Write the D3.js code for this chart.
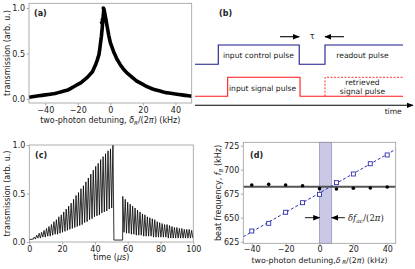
<!DOCTYPE html>
<html>
<head>
<meta charset="utf-8">
<script src="https://cdn.jsdelivr.net/npm/d3@7"></script>
<style>
  body { margin: 0; background: #fff; }
  text { font-family: "DejaVu Sans", sans-serif; fill: #222; }
</style>
</head>
<body>
<script>
// ---- panel (a): transmission vs two-photon detuning
const aDetuning = [-50, -48, -46, -44, -42, -40, -38, -36, -34, -32, -30, -28, -26, -24, -22, -20, -18, -16, -14, -12,
                   -11, -10, -9, -8, -7, -6.5, -6, -5.5, -5, -4.5, -4, -3.5, -3, -2.5, -2, -1.5, -1, 0, 1, 2, 3, 4,
                   6, 8, 10, 12, 14, 16, 18, 20, 22, 24, 26, 28, 30, 32, 34, 36, 38, 40, 42, 44, 46, 48, 50]
const aTransmission = [0.02, 0.025, 0.03, 0.035, 0.04, 0.045, 0.05, 0.055, 0.06, 0.07, 0.08, 0.09, 0.10, 0.12, 0.14, 0.16, 0.18, 0.21, 0.24, 0.28,
                       0.30, 0.34, 0.38, 0.43, 0.49, 0.55, 0.62, 0.69, 0.78, 0.89, 0.99, 0.95, 0.90, 0.85, 0.80, 0.75, 0.70, 0.62, 0.57, 0.52, 0.48, 0.44,
                       0.38, 0.33, 0.29, 0.26, 0.23, 0.20, 0.18, 0.16, 0.14, 0.125, 0.11, 0.10, 0.09, 0.08, 0.07, 0.065, 0.06, 0.055, 0.05, 0.045, 0.04, 0.035, 0.03]
const aStrayX = [-5.3, -4.9, -4.3, -3.9]
const aStrayY = [0.84, 0.87, 1.0, 0.97]
const aTicksX = [-40, -20, 0, 20, 40]
const aTicksY = [0.0, 0.5, 1.0]

// ---- panel (b): pulse sequence (time in arb. units)
const bControl = [[0, 0], [11.2, 0], [11.2, 1], [50.1, 1], [50.1, 0], [62.5, 0], [62.5, 1], [100, 1]]
const bSignal = [[0, 0], [15.7, 0], [15.7, 1], [50.5, 1], [50.5, 0], [100, 0]]
const bRetrieved = [[62.5, 0], [62.5, 1], [100, 1]]
const bTauArrows = [[40.9, 50.1], [71.6, 62.5]]

// ---- panel (c): transmission vs time
const cRiseT = [3.0, 4.5, 6.0, 7.5, 9.0, 10.5, 12.0, 13.5, 15.0, 16.5, 18.0, 19.5, 21.0, 22.5, 24.0, 25.5, 27.0,
                28.5, 30.0, 31.5, 33.0, 34.5, 36.0, 37.5, 39.0, 40.5, 42.0, 43.5, 45.0, 46.5, 48.0, 49.5, 51.0]
const cRisePeak = [0.05, 0.07, 0.09, 0.10, 0.12, 0.14, 0.16, 0.18, 0.21, 0.23, 0.26, 0.28, 0.31, 0.34, 0.37, 0.40, 0.44,
                   0.48, 0.51, 0.55, 0.58, 0.62, 0.66, 0.70, 0.74, 0.78, 0.81, 0.85, 0.88, 0.91, 0.94, 0.96, 1.00]
const cRiseTrough = [0.03, 0.03, 0.04, 0.04, 0.05, 0.05, 0.06, 0.06, 0.07, 0.08, 0.08, 0.09, 0.10, 0.11, 0.12, 0.13, 0.14,
                     0.15, 0.16, 0.17, 0.18, 0.20, 0.21, 0.23, 0.24, 0.26, 0.27, 0.28, 0.30, 0.31, 0.32, 0.34, 0.35]
const cDecayT = [57.0, 58.5, 60.0, 61.5, 63.0, 64.5, 66.0, 67.5, 69.0, 70.5, 72.0, 73.5, 75.0, 76.5, 78.0,
                 79.5, 81.0, 82.5, 84.0, 85.5, 87.0, 88.5, 90.0, 91.5, 93.0, 94.5, 96.0, 97.5, 99.0]
const cDecayPeak = [0.47, 0.44, 0.41, 0.39, 0.37, 0.35, 0.33, 0.31, 0.29, 0.28, 0.26, 0.25, 0.24, 0.23, 0.21,
                    0.20, 0.19, 0.18, 0.18, 0.17, 0.16, 0.15, 0.15, 0.14, 0.14, 0.13, 0.13, 0.13, 0.12]
const cDecayTrough = [0.10, 0.09, 0.09, 0.08, 0.08, 0.07, 0.07, 0.07, 0.06, 0.06, 0.06, 0.06, 0.05, 0.05, 0.05,
                      0.05, 0.05, 0.05, 0.04, 0.04, 0.04, 0.04, 0.04, 0.04, 0.04, 0.04, 0.04, 0.04, 0.04]
const cDark = [[0, 0.025], [2.4, 0.03], [51.6, 0.02], [56.9, 0.02]]
const cTicksX = [0, 20, 40, 60, 80, 100]
const cTicksY = [0.0, 0.5, 1.0]

// ---- panel (d): beat frequency vs detuning
const dDetuning = [-40, -30, -20, -10, 0, 10, 20, 30, 40]
const dBeatSignal = [636.1, 644.1, 655.6, 665.6, 674.3, 686.5, 695.5, 706.2, 715.3]
const dBeatRef = [684.0, 684.7, 684.0, 683.3, 680.2, 679.9, 680.6, 680.9, 682.0]
const dRefMean = 682.3
const dFitX = [-45, 45]
const dFitY = [630.2, 721.2]
const dShade = [0, 7.2]
const dTicksX = [-40, -20, 0, 20, 40]
const dTicksY = [625, 650, 675, 700, 725]

const w = 415, h = 269
const svg = d3.select("body").append("svg")
              .attr("width", w)
              .attr("height", h)

const spineColor = "#9a9a9a"

function frame(g, x, y, ticksX, ticksY, fmtX, fmtY, padX) {
    const [x0, x1] = x.range(), [y0, y1] = y.range()
    g.append("rect")
     .attr("x", x0).attr("y", y1)
     .attr("width", x1 - x0).attr("height", y0 - y1)
     .attr("fill", "none")
     .attr("stroke", spineColor)
     .attr("stroke-width", 0.8)
    const xa = g.append("g").attr("transform", "translate(0," + y0 + ")")
                .call(d3.axisBottom(x).tickValues(ticksX).tickSize(2.5).tickPadding(padX).tickFormat(fmtX))
    const ya = g.append("g").attr("transform", "translate(" + x0 + ",0)")
                .call(d3.axisLeft(y).tickValues(ticksY).tickSize(2.5).tickPadding(1.5).tickFormat(fmtY))
    for (const a of [xa, ya]) {
        a.select(".domain").remove()
        a.selectAll("line").attr("stroke", spineColor).attr("stroke-width", 0.8)
        a.selectAll("text").style("font-size", "8px").style("font-family", "DejaVu Sans").attr("fill", "#222")
    }
}
const minus = d => d3.format(".0f")(d).replace("-", "\u2212")

// ================= (a)
const ax = d3.scaleLinear().domain([-50, 50]).range([29, 191.7])
const ay = d3.scaleLinear().domain([-0.044, 1.052]).range([103, 3.3])
const ga = svg.append("g")
ga.append("path")
  .datum(d3.zip(aDetuning, aTransmission))
  .attr("d", d3.line().x(d => ax(d[0])).y(d => ay(d[1])))
  .attr("fill", "none")
  .attr("stroke", "#000")
  .attr("stroke-width", 3.6)
  .attr("stroke-linejoin", "round")
ga.selectAll("circle.stray")
  .data(d3.zip(aStrayX, aStrayY))
  .enter().append("circle")
  .attr("cx", d => ax(d[0])).attr("cy", d => ay(d[1]))
  .attr("r", 1.9).attr("fill", "#000")
frame(ga, ax, ay, aTicksX, aTicksY, minus, d3.format(".1f"), 1.5)
ga.append("text").attr("x", 34).attr("y", 16).text("(a)")
  .style("font-size", "8px").style("font-weight", "bold")
ga.append("text")
  .attr("transform", "translate(9.5,53) rotate(-90)")
  .attr("text-anchor", "middle")
  .style("font-size", "8px")
  .text("transmission (arb. u.)")
const alab = ga.append("text").attr("x", 110.3).attr("y", 123).attr("text-anchor", "middle").style("font-size", "8px")
alab.append("tspan").text("two-photon detuning, ")
alab.append("tspan").style("font-style", "italic").text("\u03b4")
alab.append("tspan").attr("dy", 1.5).style("font-size", "5.5px").style("font-style", "italic").text("R")
alab.append("tspan").attr("dy", -1.5).text("/(2")
alab.append("tspan").style("font-style", "italic").text("\u03c0")
alab.append("tspan").text(") (kHz)")

// ================= (b)
const bx = d3.scaleLinear().domain([0, 100]).range([195, 403])
const bCtrlY = d3.scaleLinear().domain([0, 1]).range([64.3, 45])
const bSigY = d3.scaleLinear().domain([0, 1]).range([96.3, 77.3])
const gb = svg.append("g")
const defs = svg.append("defs")
defs.append("marker")
    .attr("id", "head")
    .attr("viewBox", "0 0 10 10")
    .attr("refX", 9).attr("refY", 5)
    .attr("markerWidth", 7).attr("markerHeight", 7)
    .attr("markerUnits", "userSpaceOnUse")
    .attr("orient", "auto")
    .append("path").attr("d", "M0,1 L10,5 L0,9 Z").attr("fill", "#000")

gb.append("path")
  .datum(bControl)
  .attr("d", d3.line().x(d => bx(d[0])).y(d => bCtrlY(d[1])))
  .attr("fill", "none").attr("stroke", "#1a1a8c").attr("stroke-width", 1.1)
gb.append("path")
  .datum(bSignal)
  .attr("d", d3.line().x(d => bx(d[0])).y(d => bSigY(d[1])))
  .attr("fill", "none").attr("stroke", "#ff1a1a").attr("stroke-width", 1.1)
gb.append("path")
  .datum(bRetrieved)
  .attr("d", d3.line().x(d => bx(d[0])).y(d => bSigY(d[1])))
  .attr("fill", "none").attr("stroke", "#ff1a1a").attr("stroke-width", 0.9)
  .attr("stroke-dasharray", "2,1.5")
gb.append("line")
  .attr("x1", bx(0)).attr("x2", bx(104.8))
  .attr("y1", 105.3).attr("y2", 105.3)
  .attr("stroke", "#000").attr("stroke-width", 1.1)
  .attr("marker-end", "url(#head)")
gb.selectAll("line.tau")
  .data(bTauArrows)
  .enter().append("line")
  .attr("x1", d => bx(d[0])).attr("x2", d => bx(d[1]))
  .attr("y1", 36.7).attr("y2", 36.7)
  .attr("stroke", "#000").attr("stroke-width", 1.1)
  .attr("marker-end", "url(#head)")
gb.append("text").attr("x", bx(56.3)).attr("y", 39).attr("text-anchor", "middle")
  .style("font-size", "8px").text("\u03c4")
gb.append("text").attr("x", 219).attr("y", 15.5).text("(b)")
  .style("font-size", "8px").style("font-weight", "bold")
const bLabels = [
    ["input control pulse", 30.5, 57.8],
    ["readout pulse", 80.5, 57.8],
    ["input signal pulse", 32.5, 90.5],
    ["retrieved", 80.5, 84.5],
    ["signal pulse", 80.5, 93.5],
    ["time", 95.3, 113.8]
]
gb.selectAll("text.lab")
  .data(bLabels)
  .enter().append("text")
  .attr("x", d => bx(d[1])).attr("y", d => d[2])
  .attr("text-anchor", "middle")
  .style("font-size", "7.6px")
  .attr("fill", "#333")
  .text(d => d[0])

// ================= (c)
const cx = d3.scaleLinear().domain([0, 100]).range([29.3, 193.3])
const cy = d3.scaleLinear().domain([0, 1]).range([242, 145])
const cTrace = [cDark[0], cDark[1]]
cRiseT.forEach((t, i) => { cTrace.push([t - 0.75, cRiseTrough[i]], [t, cRisePeak[i]]) })
cTrace.push(cDark[2], cDark[3])
cDecayT.forEach((t, i) => { cTrace.push([t, cDecayPeak[i]], [t + 0.75, cDecayTrough[i]]) })
const gc = svg.append("g")
gc.append("path")
  .datum(cTrace)
  .attr("d", d3.line().x(d => cx(d[0])).y(d => cy(d[1])))
  .attr("fill", "none").attr("stroke", "#000").attr("stroke-width", 0.8)
frame(gc, cx, cy, cTicksX, cTicksY, d3.format(".0f"), d3.format(".1f"), 1.5)
gc.append("text").attr("x", 35).attr("y", 158).text("(c)")
  .style("font-size", "8px").style("font-weight", "bold")
gc.append("text")
  .attr("transform", "translate(9.5,193.5) rotate(-90)")
  .attr("text-anchor", "middle")
  .style("font-size", "8px")
  .text("transmission (arb. u.)")
const clab = gc.append("text").attr("x", 111.3).attr("y", 259.5).attr("text-anchor", "middle").style("font-size", "8px")
clab.append("tspan").text("time (")
clab.append("tspan").style("font-style", "italic").text("\u03bc")
clab.append("tspan").text("s)")

// ================= (d)
const dx = d3.scaleLinear().domain([-45, 45]).range([243.3, 395.7])
const dy = d3.scaleLinear().domain([623.3, 728.5]).range([243.3, 142.3])
const gd = svg.append("g")
gd.append("rect")
  .attr("x", dx(dShade[0])).attr("width", dx(dShade[1]) - dx(dShade[0]))
  .attr("y", dy(728.5)).attr("height", dy(623.3) - dy(728.5))
  .attr("fill", "#c9c9e6").attr("stroke", "#8c8cbf").attr("stroke-width", 0.7)
gd.append("line")
  .attr("x1", dx(-45)).attr("x2", dx(45))
  .attr("y1", dy(dRefMean)).attr("y2", dy(dRefMean))
  .attr("stroke", "#555").attr("stroke-width", 2)
gd.append("path")
  .datum(d3.zip(dFitX, dFitY))
  .attr("d", d3.line().x(d => dx(d[0])).y(d => dy(d[1])))
  .attr("stroke", "#3030b0").attr("stroke-width", 1)
  .attr("stroke-dasharray", "3,2")
gd.selectAll("circle.ref")
  .data(d3.zip(dDetuning, dBeatRef))
  .enter().append("circle")
  .attr("cx", d => dx(d[0])).attr("cy", d => dy(d[1]))
  .attr("r", 1.8).attr("fill", "#000")
gd.selectAll("rect.sig")
  .data(d3.zip(dDetuning, dBeatSignal))
  .enter().append("rect")
  .attr("x", d => dx(d[0]) - 2).attr("y", d => dy(d[1]) - 2)
  .attr("width", 4).attr("height", 4)
  .attr("fill", "#fff").attr("stroke", "#3030b0").attr("stroke-width", 0.9)
frame(gd, dx, dy, dTicksX, dTicksY, minus, d3.format(".0f"), 0.5)
// delta f_ac arrows
const dArrows = [[-8.6, 0], [15, 7.2]]
gd.selectAll("line.ac")
  .data(dArrows)
  .enter().append("line")
  .attr("x1", d => dx(d[0])).attr("x2", d => dx(d[1]))
  .attr("y1", 217.7).attr("y2", 217.7)
  .attr("stroke", "#000").attr("stroke-width", 0.9)
  .attr("marker-end", "url(#head)")
const dac = gd.append("text").attr("x", 348).attr("y", 221).style("font-size", "8.5px")
              .style("font-family", "DejaVu Serif").style("font-style", "italic")
dac.append("tspan").text("\u03b4f")
dac.append("tspan").attr("dy", 1.5).style("font-size", "6px").text("ac")
dac.append("tspan").attr("dy", -1.5).style("font-style", "normal").text("/(2")
dac.append("tspan").text("\u03c0")
dac.append("tspan").style("font-style", "normal").text(")")
gd.append("text").attr("x", 250).attr("y", 158).text("(d)")
  .style("font-size", "8px").style("font-weight", "bold")
const dyl = gd.append("text")
  .attr("transform", "translate(221,193) rotate(-90)")
  .attr("text-anchor", "middle")
  .style("font-size", "8px")
dyl.append("tspan").text("beat frequency, ")
dyl.append("tspan").style("font-style", "italic").text("f")
dyl.append("tspan").attr("dy", 1.5).style("font-size", "5.5px").style("font-style", "italic").text("B")
dyl.append("tspan").attr("dy", -1.5).text(" (kHz)")
const dxl = gd.append("text").attr("x", 319.5).attr("y", 262.5).attr("text-anchor", "middle").style("font-size", "7.8px")
dxl.append("tspan").text("two-photon detuning,")
dxl.append("tspan").style("font-style", "italic").text("\u03b4")
dxl.append("tspan").attr("dy", 1.5).style("font-size", "5.5px").style("font-style", "italic").text(" R")
dxl.append("tspan").attr("dy", -1.5).text("/(2")
dxl.append("tspan").style("font-style", "italic").text("\u03c0")
dxl.append("tspan").text(") (kHz)")
</script>
</body>
</html>
